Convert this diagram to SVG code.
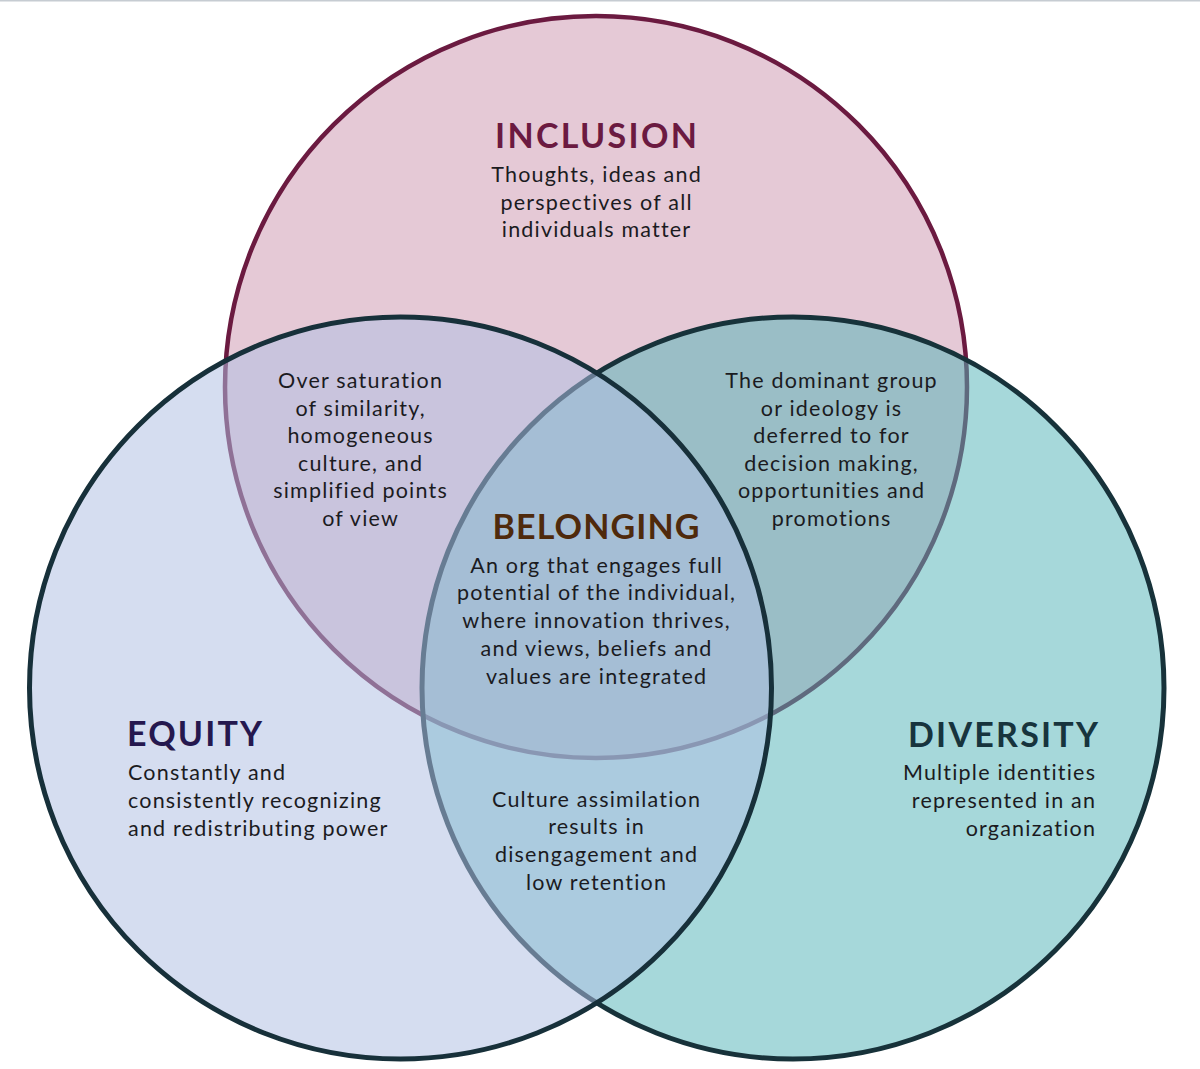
<svg xmlns="http://www.w3.org/2000/svg" width="1200" height="1069" viewBox="0 0 1200 1069">
<style>
.body{font-family:Lato,"Noto Sans","DejaVu Sans",sans-serif;font-size:21.5px;fill:#1b1b1f;text-anchor:middle;letter-spacing:1.2px}
.title{font-family:Lato,"Noto Sans","DejaVu Sans",sans-serif;font-size:34px;font-weight:bold;text-anchor:middle}
.left{text-anchor:start}
.right{text-anchor:end}
</style>
<rect x="0" y="0" width="1200" height="1069" fill="#ffffff"/>
<rect x="0" y="0" width="1200" height="1.5" fill="#c6ccd2"/>
<g id="circles">
  <g id="inclusion-circle">
    <circle cx="596" cy="387" r="371" fill="#e5c9d6" stroke="#6b1a40" stroke-width="4.5"/>
  </g>
  <g id="diversity-circle">
    <circle cx="793" cy="688" r="371" fill="rgb(84,180,184)" fill-opacity="0.52" stroke="#17323a" stroke-width="5"/>
  </g>
  <g id="equity-circle">
    <circle cx="400.5" cy="688" r="371" fill="rgb(175,190,226)" fill-opacity="0.53" stroke="#17303a" stroke-width="5"/>
  </g>
</g>
<g id="labels">
  <g id="inclusion">
    <text class="title" x="596" y="148" fill="#6b1a41" textLength="202">INCLUSION</text>
    <text class="body" x="596.6" y="182">Thoughts, ideas and</text>
    <text class="body" x="596.6" y="209.5">perspectives of all</text>
    <text class="body" x="596.6" y="237">individuals matter</text>
  </g>
  <g id="inclusion-equity">
    <text class="body" x="360.6" y="388">Over saturation</text>
    <text class="body" x="360.6" y="415.6">of similarity,</text>
    <text class="body" x="360.6" y="443.2">homogeneous</text>
    <text class="body" x="360.6" y="470.8">culture, and</text>
    <text class="body" x="360.6" y="498.4">simplified points</text>
    <text class="body" x="360.6" y="526">of view</text>
  </g>
  <g id="inclusion-diversity">
    <text class="body" x="831.6" y="388">The dominant group</text>
    <text class="body" x="831.6" y="415.6">or ideology is</text>
    <text class="body" x="831.6" y="443.2">deferred to for</text>
    <text class="body" x="831.6" y="470.8">decision making,</text>
    <text class="body" x="831.6" y="498.4">opportunities and</text>
    <text class="body" x="831.6" y="526">promotions</text>
  </g>
  <g id="belonging">
    <text class="title" x="596" y="539" fill="#4f2a0c" textLength="207">BELONGING</text>
    <text class="body" x="596.6" y="572.5">An org that engages full</text>
    <text class="body" x="596.6" y="600.3">potential of the individual,</text>
    <text class="body" x="596.6" y="628.1">where innovation thrives,</text>
    <text class="body" x="596.6" y="655.9">and views, beliefs and</text>
    <text class="body" x="596.6" y="683.7">values are integrated</text>
  </g>
  <g id="equity">
    <text class="title left" x="127" y="746" fill="#25184f" textLength="135">EQUITY</text>
    <text class="body left" x="128" y="780">Constantly and</text>
    <text class="body left" x="128" y="808">consistently recognizing</text>
    <text class="body left" x="128" y="836">and redistributing power</text>
  </g>
  <g id="diversity">
    <text class="title right" x="1098" y="746.5" fill="#17343d" textLength="190">DIVERSITY</text>
    <text class="body right" x="1096.2" y="780">Multiple identities</text>
    <text class="body right" x="1096.2" y="808">represented in an</text>
    <text class="body right" x="1096.2" y="836">organization</text>
  </g>
  <g id="equity-diversity">
    <text class="body" x="596.6" y="806.5">Culture assimilation</text>
    <text class="body" x="596.6" y="834.3">results in</text>
    <text class="body" x="596.6" y="862.1">disengagement and</text>
    <text class="body" x="596.6" y="890">low retention</text>
  </g>
</g>
</svg>
